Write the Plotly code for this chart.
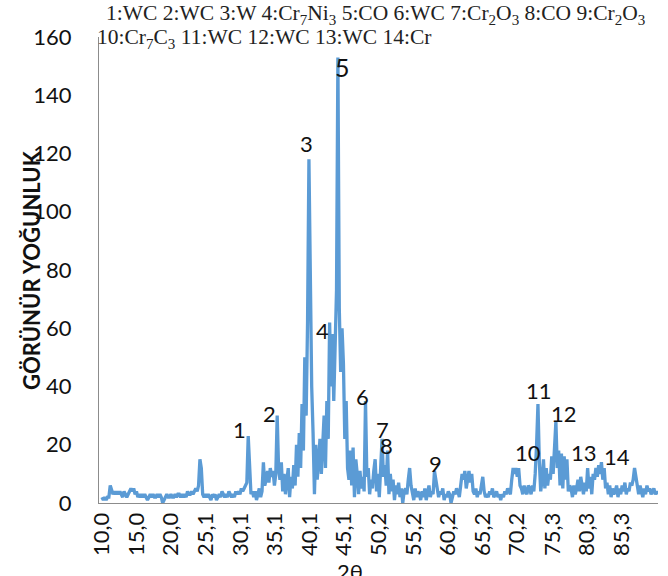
import plotly.graph_objects as go

# Diffraction angle grid (2θ, degrees) and measured intensity
theta_start = 10.0
theta_step = 0.2
intensity = [
    2, 1, 2, 1, 2, 2, 6, 4, 3, 4,          # 10.0 - 11.8
    3, 4, 3, 4, 3, 2, 4, 3, 2, 3,          # 12.0 - 13.8
    4, 5, 4, 5, 3, 4, 2, 3, 2, 3,          # 14.0 - 15.8
    2, 3, 2, 1, 2, 3, 2, 3, 2, 2,          # 16.0 - 17.8
    3, 2, 3, 2, 0, 1, 2, 3, 2, 2,          # 18.0 - 19.8
    3, 2, 2, 3, 2, 3, 3, 2, 3, 2,          # 20.0 - 21.8
    3, 2, 4, 3, 3, 4, 3, 4, 5, 4,          # 22.0 - 23.8
    6, 15, 12, 3, 2, 3, 2, 3, 2, 1,        # 24.0 - 25.8
    3, 2, 3, 1, 2, 3, 2, 4, 3, 2,          # 26.0 - 27.8
    3, 2, 4, 3, 2, 3, 2, 4, 3, 4,          # 28.0 - 29.8
    3, 5, 4, 5, 6, 7, 23, 12, 3, 4,        # 30.0 - 31.8
    2, 4, 1, 3, 5, 2, 4, 14, 6, 8,         # 32.0 - 33.8
    11, 7, 12, 9, 11, 6, 10, 30, 12, 8,    # 34.0 - 35.8
    14, 4, 10, 3, 8, 12, 2, 9, 5, 13,      # 36.0 - 37.8
    6, 20, 9, 24, 12, 34, 18, 50, 30, 62,  # 38.0 - 39.8
    118, 65, 40, 24, 3, 20, 8, 14, 22, 10, # 40.0 - 41.8
    18, 30, 12, 35, 22, 62, 40, 58, 35, 52,  # 42.0 - 43.8
    73, 153, 67, 45, 60, 48, 22, 35, 12, 8,  # 44.0 - 45.8
    18, 6, 19, 2, 15, 10, 3, 11, 5, 9,     # 46.0 - 47.8
    4, 35, 9, 12, 3, 8, 5, 11, 15, 4,      # 48.0 - 49.8
    10, 2, 13, 22, 9, 13, 6, 18, 3, 10,    # 50.0 - 51.8
    4, 8, 1, 6, 3, 7, 2, 5, 0, 4,          # 52.0 - 53.8
    5, 3, 8, 12, 6, 4, 1, 5, 2, 4,         # 54.0 - 55.8
    3, 1, 4, 2, 5, 1, 3, 6, 2, 4,          # 56.0 - 57.8
    3, 11, 8, 5, 2, 4, 3, 5, 1, 3,         # 58.0 - 59.8
    2, 4, 3, 0, 2, 4, 3, 5, 4, 2,          # 60.0 - 61.8
    6, 10, 8, 11, 5, 9, 11, 7, 10, 4,      # 62.0 - 63.8
    3, 5, 2, 4, 3, 6, 9, 4, 2, 3,          # 64.0 - 65.8
    2, 4, 3, 5, 2, 3, 4, 2, 3, 1,          # 66.0 - 67.8
    3, 2, 4, 3, 5, 4, 3, 8, 12, 10,        # 68.0 - 69.8
    12, 9, 12, 6, 5, 3, 6, 4, 3, 6,        # 70.0 - 71.8
    5, 3, 6, 4, 10, 20, 34, 14, 4, 8,      # 72.0 - 73.8
    15, 5, 12, 6, 10, 8, 16, 10, 18, 28,   # 74.0 - 75.8
    12, 18, 6, 17, 5, 16, 8, 15, 4, 6,     # 76.0 - 77.8
    5, 2, 6, 3, 5, 8, 4, 9, 6, 3,          # 78.0 - 79.8
    7, 4, 12, 5, 9, 3, 10, 8, 12, 9,       # 80.0 - 81.8
    13, 10, 14, 8, 12, 5, 7, 3, 6, 2,      # 82.0 - 83.8
    5, 3, 4, 6, 2, 5, 3, 6, 4, 7,          # 84.0 - 85.8
    3, 5, 4, 7, 6, 8, 12, 9, 5, 3,         # 86.0 - 87.8
    6, 4, 2, 5, 3, 6, 4, 5, 3, 4,          # 88.0 - 89.8
    5, 3, 4, 3,                            # 90.0 - 90.6
]
two_theta = [round(theta_start + i * theta_step, 1) for i in range(len(intensity))]

# Category-style tick labels on the angle axis
tick_vals = [10.0, 15.0, 20.0, 25.1, 30.1, 35.1, 40.1, 45.1,
             50.2, 55.2, 60.2, 65.2, 70.2, 75.3, 80.3, 85.3]
tick_text = ["10,0", "15,0", "20,0", "25,1", "30,1", "35,1", "40,1", "45,1",
             "50,2", "55,2", "60,2", "65,2", "70,2", "75,3", "80,3", "85,3"]

# Peak numbers and where they are written (2θ, intensity)
peak_ids = ["1", "2", "3", "4", "5", "6", "7", "8", "9", "10", "11", "12", "13", "14"]
peak_label_x = [29.9, 34.35, 39.7, 41.9, 44.8, 47.7, 50.6, 51.3, 58.4, 71.7, 73.3, 77.0, 79.9, 84.6]
peak_label_y = [25.1, 30.9, 123.6, 59.4, 149.7, 36.4, 25.1, 19.6, 13.7, 17.2, 38.8, 30.9, 17.5, 16.1]

# Phase key, two lines
phase_key_1 = ("1:WC 2:WC 3:W 4:Cr<sub>7</sub>Ni<sub>3</sub> 5:CO 6:WC 7:Cr<sub>2</sub>O<sub>3</sub> "
               "8:CO 9:Cr<sub>2</sub>O<sub>3</sub>")
phase_key_2 = "10:Cr<sub>7</sub>C<sub>3</sub> 11:WC 12:WC 13:WC 14:Cr"

LINE_BLUE = "#5B9BD5"
AXIS_GREY = "#8C8C8C"
SANS = "Lato, 'Open Sans', sans-serif"
SERIF = "'Liberation Serif', 'DejaVu Serif', serif"

# plot area in pixels: x 99..658, y 37..503
PLOT_L, PLOT_W, PLOT_T, PLOT_H = 99, 559, 37, 466


def px_to_paper_x(px):
    return (px - PLOT_L) / PLOT_W


def py_to_paper_y(py):
    return (PLOT_T + PLOT_H - py) / PLOT_H


fig = go.Figure()
fig.add_trace(go.Scatter(
    x=two_theta, y=intensity, mode="lines",
    line=dict(color=LINE_BLUE, width=3.3),
    showlegend=False, hoverinfo="x+y",
))

annotations = []
for pid, lx, ly in zip(peak_ids, peak_label_x, peak_label_y):
    annotations.append(dict(
        x=lx, y=ly, xref="x", yref="y", text=pid, showarrow=False,
        font=dict(family=SANS, size=22 if pid != "5" else 25, color="#111111"),
        xanchor="center", yanchor="middle",
    ))

annotations.append(dict(
    x=px_to_paper_x(104), y=py_to_paper_y(15), xref="paper", yref="paper",
    text=phase_key_1, showarrow=False, align="left",
    xanchor="left", yanchor="middle",
    font=dict(family=SERIF, size=21.5, color="#222222"),
))
annotations.append(dict(
    x=px_to_paper_x(95), y=py_to_paper_y(39), xref="paper", yref="paper",
    text=phase_key_2, showarrow=False, align="left",
    xanchor="left", yanchor="middle",
    font=dict(family=SERIF, size=21.5, color="#222222"),
))

# Vertical axis title
annotations.append(dict(
    x=px_to_paper_x(31), y=0.5, xref="paper", yref="paper",
    text="<b>GÖRÜNÜR YOĞUNLUK</b>", showarrow=False, textangle=-90,
    xanchor="center", yanchor="middle",
    font=dict(family=SANS, size=22, color="#111111"),
))

# Horizontal axis title (sits at the bottom edge)
annotations.append(dict(
    x=px_to_paper_x(350), y=0, xref="paper", yref="paper", yshift=-53,
    text="2θ", showarrow=False, xanchor="center", yanchor="top",
    font=dict(family=SANS, size=22, color="#111111"),
))

fig.update_layout(
    width=668, height=576,
    margin=dict(l=PLOT_L, r=668 - PLOT_L - PLOT_W, t=PLOT_T, b=576 - PLOT_T - PLOT_H),
    paper_bgcolor="white", plot_bgcolor="white",
    annotations=annotations,
    xaxis=dict(
        range=[9.57, 90.6], tickmode="array", tickvals=tick_vals, ticktext=tick_text,
        tickangle=-90, showgrid=False, zeroline=False,
        showline=True, linecolor=AXIS_GREY, linewidth=1,
        ticks="", tickfont=dict(family=SANS, size=22, color="#111111"),
    ),
    yaxis=dict(
        range=[0, 160], tickvals=[0, 20, 40, 60, 80, 100, 120, 140, 160],
        showgrid=False, zeroline=False,
        showline=True, linecolor=AXIS_GREY, linewidth=1,
        ticks="", ticklabelstandoff=22,
        tickfont=dict(family=SANS, size=22, color="#111111"),
    ),
)

fig.write_html("out.html")
